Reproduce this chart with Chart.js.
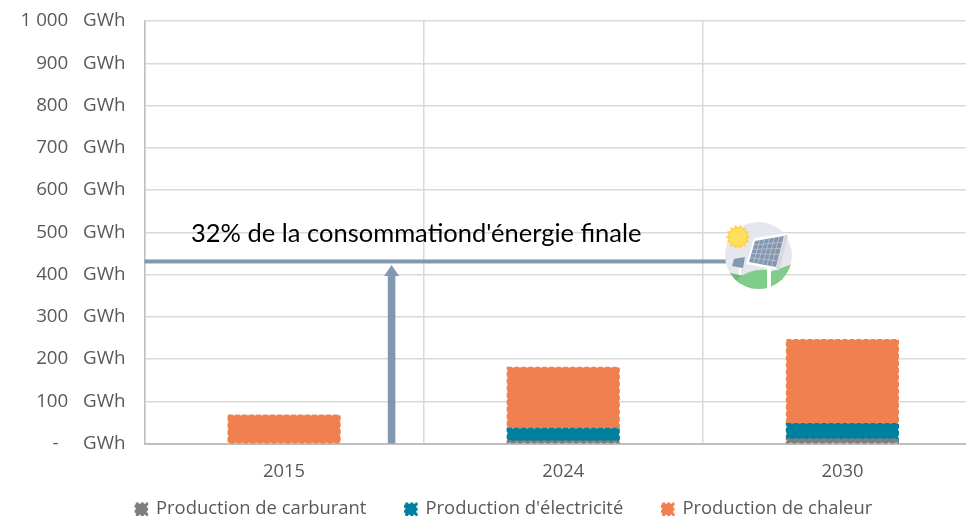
<!DOCTYPE html>
<html><head><meta charset="utf-8">
<style>html,body{margin:0;padding:0;background:#fff;overflow:hidden;width:966px;height:517px}canvas{display:block}</style>
<script src="https://cdn.jsdelivr.net/npm/chart.js@4"></script>
</head><body><canvas id="c" width="982" height="517" style="width:982px;height:517px"></canvas>
<script>
const categories = ['2015','2024','2030'];
const carburant = [0,6,11];
const electricite = [0,30,36];
const chaleur = [67,144,199];
const seriesNames = ['Production de carburant',"Production d'électricité",'Production de chaleur'];
const seriesColors = ['#7F7F7F','#00809F','#F08050'];
const yTickLabels = {0:'-',100:'100',200:'200',300:'300',400:'400',500:'500',600:'600',700:'700',800:'800',900:'900',1000:'1 000'};
const unit = 'GWh';
const refValue = 431;
const refLabel = "32% de la consommationd'énergie finale";
const NB = '\u00A0';

const dashedEdges = {
  id:'dashedEdges',
  afterDatasetDraw(chart,args){
    const ctx=chart.ctx, ds=chart.data.datasets[args.index];
    args.meta.data.forEach((b,i)=>{
      if(!ds.data[i])return;
      const p=b.getProps(['x','y','base','width'],true);
      ctx.save();
      ctx.strokeStyle=ds.backgroundColor;ctx.lineWidth=1.5;ctx.setLineDash([4.5,2.5]);
      ctx.strokeRect(p.x-p.width/2,p.y,p.width,p.base-p.y);
      ctx.restore();
    });
  }
};
const legendPlace = {id:'legendPlace',afterLayout(chart){const l=chart.legend;l.left+=26;l.top=461;l.bottom=l.top+l.height;}};
function icon(ctx){
  ctx.save();
  ctx.beginPath();ctx.arc(758.5,255.5,33.5,0,Math.PI*2);ctx.fillStyle='#E4E7ED';ctx.fill();ctx.clip();
  ctx.fillStyle='#6FB97A';
  ctx.beginPath();ctx.moveTo(725,272);ctx.lineTo(745,276);ctx.lineTo(738,292);ctx.lineTo(725,292);ctx.closePath();ctx.fill();
  ctx.fillStyle='#80CC8A';
  ctx.beginPath();ctx.moveTo(738,278);ctx.quadraticCurveTo(752,268,768,270);ctx.lineTo(768,292);ctx.lineTo(735,292);ctx.closePath();ctx.fill();
  ctx.beginPath();ctx.moveTo(770,272);ctx.quadraticCurveTo(782,268,792,264);ctx.lineTo(795,292);ctx.lineTo(770,292);ctx.closePath();ctx.fill();
  ctx.fillStyle='#fff';ctx.fillRect(767,266,4,26);
  ctx.fillRect(739,268,2,7);
  ctx.restore();
  ctx.save();
  ctx.fillStyle='#FFFFFF';ctx.beginPath();ctx.moveTo(754,238);ctx.lineTo(787,233);ctx.lineTo(778,270);ctx.lineTo(746,264);ctx.closePath();ctx.fill();
  ctx.fillStyle='#D5D8E0';ctx.beginPath();ctx.moveTo(785,234);ctx.lineTo(788,236);ctx.lineTo(779,271);ctx.lineTo(776,268);ctx.closePath();ctx.fill();
  ctx.fillStyle='#8497B0';ctx.beginPath();ctx.moveTo(755,241);ctx.lineTo(784,236);ctx.lineTo(776,267);ctx.lineTo(749,262);ctx.closePath();ctx.fill();
  ctx.strokeStyle='#C5CCD8';ctx.lineWidth=.7;
  for(let t=1;t<5;t++){const a=t/5;ctx.beginPath();ctx.moveTo(755-6*a,241+21*a);ctx.lineTo(784-8*a,236+31*a);ctx.stroke();}
  for(let t=1;t<6;t++){const a=t/6;ctx.beginPath();ctx.moveTo(755+29*a,241-5*a);ctx.lineTo(749+27*a,262+5*a);ctx.stroke();}
  ctx.fillStyle='#8497B0';ctx.beginPath();ctx.moveTo(734,259);ctx.lineTo(745,257);ctx.lineTo(743,268);ctx.lineTo(732,266);ctx.closePath();ctx.fill();
  ctx.fillStyle='#FFD24D';ctx.beginPath();
  for(let i=0;i<28;i++){const r=i%2?9.5:12.5,an=i*Math.PI/14;ctx.lineTo(738+r*Math.cos(an),237+r*Math.sin(an));}
  ctx.closePath();ctx.fill();
  ctx.fillStyle='#FFE05C';ctx.beginPath();ctx.arc(738,237,8.5,0,Math.PI*2);ctx.fill();
  ctx.restore();
}
const annotation = {
  id:'annotation',
  afterDatasetsDraw(chart){
    const ctx=chart.ctx,x=chart.scales.x,y=chart.scales.y,c='#8497B0';
    const ly=y.getPixelForValue(refValue);
    ctx.save();
    ctx.fillStyle=c;
    ctx.fillRect(x.left,ly-2,726-x.left,4);
    const ax=x.getPixelForValue(0)+107.5, top=y.getPixelForValue(422.5), bot=y.getPixelForValue(0.5);
    ctx.fillRect(ax-3.8,top+11,7.6,bot-top-11);
    ctx.beginPath();ctx.moveTo(ax,top);ctx.lineTo(ax+7.5,top+11);ctx.lineTo(ax-7.5,top+11);ctx.closePath();ctx.fill();
    icon(ctx);
    ctx.fillStyle='#000';ctx.font='25.5px Lato';ctx.textBaseline='alphabetic';ctx.textAlign='left';
    ctx.fillText(refLabel,191,242);
    ctx.restore();
  }
};

const rawData=[carburant,electricite,chaleur];
new Chart(document.getElementById('c'),{
  type:'bar',
  data:{labels:categories,datasets:seriesNames.map((n,i)=>({label:n,data:rawData[i],backgroundColor:seriesColors[i],borderWidth:0,barPercentage:0.4,categoryPercentage:1}))},
  plugins:[dashedEdges,legendPlace,annotation],
  options:{
    responsive:false,animation:false,
    layout:{padding:{top:21,bottom:-38,left:0,right:0}},
    scales:{
      x:{stacked:true,
        grid:{color:'#D9D9D9',lineWidth:1.5,drawTicks:false},
        border:{color:'#BFBFBF',width:2},
        ticks:{color:'#595959',font:{family:'Open Sans',size:18.4},padding:17,maxRotation:0},
        afterFit(s){s.height=44;}
      },
      y:{stacked:true,min:0,max:1000,
        grid:{color:'#D9D9D9',lineWidth:1.5,drawTicks:true,tickLength:19,tickColor:'rgba(0,0,0,0)'},
        border:{color:'#BFBFBF',width:1.5},
        ticks:{stepSize:100,color:'#595959',font:{family:'Open Sans',size:18.8},padding:0,
          callback:v=>(v===0?yTickLabels[v]+NB+NB:yTickLabels[v])+NB+NB+NB+unit},
        afterFit(s){s.width=144.5;}
      }
    },
    plugins:{
      tooltip:{enabled:false},
      legend:{position:'bottom',
        labels:{color:'#595959',font:{family:'Open Sans',size:18.4},boxWidth:11,boxHeight:11,padding:39,
          generateLabels(chart){return chart.data.datasets.map((d,i)=>({text:d.label,fillStyle:d.backgroundColor,strokeStyle:d.backgroundColor,lineWidth:2.5,lineDash:[3,2],datasetIndex:i,fontColor:'#595959'}));}
        }
      }
    }
  }
});
</script></body></html>
